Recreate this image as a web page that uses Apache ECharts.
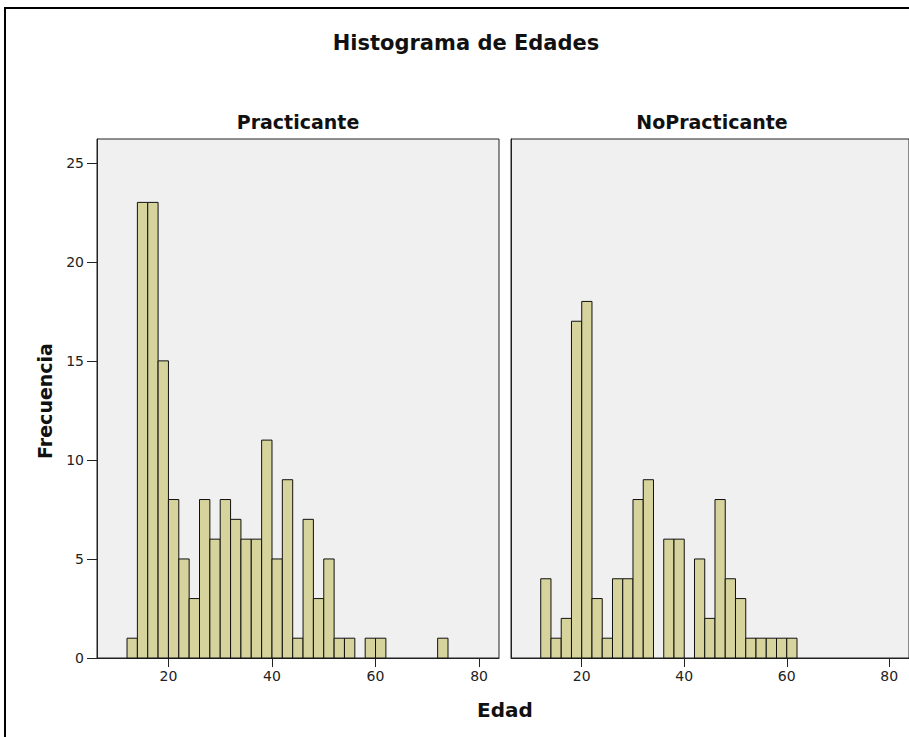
<!DOCTYPE html>
<html>
<head>
<meta charset="utf-8">
<title>Histograma de Edades</title>
<script src="https://cdn.jsdelivr.net/npm/echarts@6/dist/echarts.min.js"></script>
<style>
  html, body { margin: 0; padding: 0; background: #fff; }
  #chart { width: 909px; height: 737px; }
</style>
</head>
<body>
<div id="chart"></div>
<script>
// inicio de cada intervalo de edad (ancho 2 años)
var binStart = [12, 14, 16, 18, 20, 22, 24, 26, 28, 30, 32, 34, 36, 38, 40, 42,
                44, 46, 48, 50, 52, 54, 56, 58, 60, 62, 64, 66, 68, 70, 72];
var binWidth = 2;

// frecuencias
var practicante   = [1, 23, 23, 15, 8, 5, 3, 8, 6, 8, 7, 6, 6, 11, 5, 9,
                     1, 7, 3, 5, 1, 1, 0, 1, 1, 0, 0, 0, 0, 0, 1];
var noPracticante = [4, 1, 2, 17, 18, 3, 1, 4, 4, 8, 9, 0, 6, 6, 0, 5,
                     2, 8, 4, 3, 1, 1, 1, 1, 1, 0, 0, 0, 0, 0, 0];

var panelNames = ['Practicante', 'NoPracticante'];
var xTicks = [20, 40, 60, 80];

var FONT = 'DejaVu Sans';
var barColor = '#d6d39c';
var lineColor = '#222';

function toBins(counts) {
  var out = [];
  for (var i = 0; i < binStart.length; i++) {
    if (counts[i] > 0) out.push([binStart[i], binStart[i] + binWidth, counts[i]]);
  }
  return out;
}

function renderBar(params, api) {
  var p0 = api.coord([api.value(0), api.value(2)]);
  var p1 = api.coord([api.value(1), 0]);
  return {
    type: 'rect',
    shape: { x: p0[0], y: p0[1], width: p1[0] - p0[0], height: p1[1] - p0[1] },
    style: { fill: barColor, stroke: '#111', lineWidth: 1 }
  };
}

var chart = echarts.init(document.getElementById('chart'), null, { renderer: 'svg' });

var grids = [
  { left: 97, top: 139, width: 402, height: 519 },
  { left: 511, top: 139, width: 402, height: 519 }
];

chart.setOption({
  animation: false,
  backgroundColor: '#fff',
  grid: grids.map(function (g) {
    return Object.assign({
      show: true,
      backgroundColor: '#f0f0f0',
      borderColor: lineColor,
      borderWidth: 1
    }, g);
  }),
  xAxis: [0, 1].map(function (i) {
    return {
      type: 'value',
      gridIndex: i,
      min: 6.2,
      max: 83.85,
      axisLine: { show: true, lineStyle: { color: lineColor, width: 1 } },
      axisTick: { show: true, customValues: xTicks, length: 9, lineStyle: { color: lineColor } },
      axisLabel: { customValues: xTicks, margin: 11, fontSize: 14, color: '#222', fontFamily: FONT },
      splitLine: { show: false }
    };
  }),
  yAxis: [
    {
      type: 'value',
      gridIndex: 0,
      min: 0,
      max: 26.2,
      interval: 5,
      axisLine: { show: true, lineStyle: { color: lineColor, width: 1 } },
      axisTick: { show: true, length: 10, lineStyle: { color: lineColor } },
      axisLabel: { margin: 13, fontSize: 14, color: '#222', fontFamily: FONT,
                   showMaxLabel: false },
      splitLine: { show: false }
    },
    {
      type: 'value',
      gridIndex: 1,
      min: 0,
      max: 26.2,
      interval: 5,
      axisLine: { show: true, lineStyle: { color: lineColor, width: 1 } },
      axisTick: { show: false },
      axisLabel: { show: false },
      splitLine: { show: false }
    }
  ],
  series: [
    {
      name: panelNames[0],
      type: 'custom',
      xAxisIndex: 0,
      yAxisIndex: 0,
      renderItem: renderBar,
      encode: { x: [0, 1], y: 2 },
      data: toBins(practicante)
    },
    {
      name: panelNames[1],
      type: 'custom',
      xAxisIndex: 1,
      yAxisIndex: 1,
      renderItem: renderBar,
      encode: { x: [0, 1], y: 2 },
      data: toBins(noPracticante)
    }
  ],
  graphic: [
    // marco exterior (recortado a la derecha y abajo)
    {
      type: 'rect',
      shape: { x: 5, y: 8, width: 930, height: 760 },
      style: { fill: null, stroke: '#000', lineWidth: 2 },
      silent: true
    },
    {
      type: 'text', x: 466, y: 42.5,
      style: { text: 'Histograma de Edades', font: 'bold 21px "DejaVu Sans"', fill: '#111',
               align: 'center', verticalAlign: 'middle' }
    },
    {
      type: 'text', x: 298, y: 121.5,
      style: { text: panelNames[0], font: 'bold 19px "DejaVu Sans"', fill: '#111',
               align: 'center', verticalAlign: 'middle' }
    },
    {
      type: 'text', x: 712, y: 121.5,
      style: { text: panelNames[1], font: 'bold 19px "DejaVu Sans"', fill: '#111',
               align: 'center', verticalAlign: 'middle' }
    },
    {
      type: 'text', x: 505, y: 709.5,
      style: { text: 'Edad', font: 'bold 20px "DejaVu Sans"', fill: '#111',
               align: 'center', verticalAlign: 'middle' }
    },
    {
      type: 'text', x: 45, y: 401, rotation: Math.PI / 2,
      style: { text: 'Frecuencia', font: 'bold 19px "DejaVu Sans"', fill: '#111',
               align: 'center', verticalAlign: 'middle' }
    }
  ]
});
</script>
</body>
</html>
